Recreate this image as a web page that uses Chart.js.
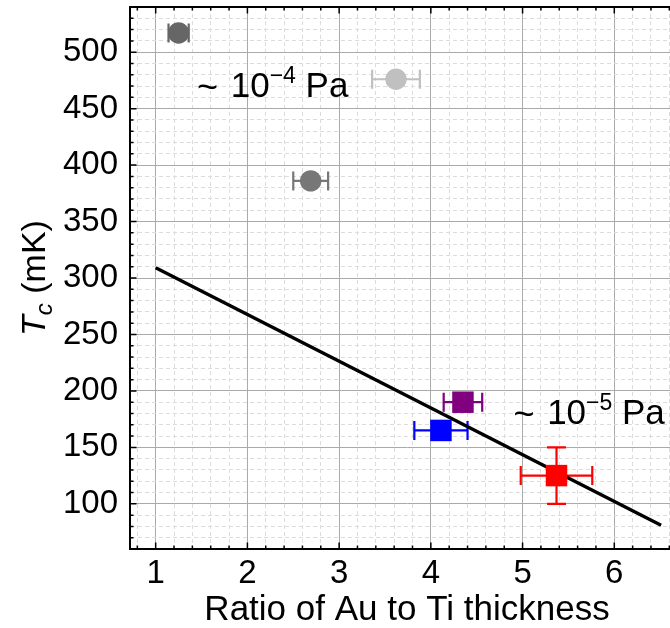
<!DOCTYPE html>
<html>
<head>
<meta charset="utf-8">
<script src="https://cdn.jsdelivr.net/npm/chart.js@4.4.1/dist/chart.umd.min.js"></script>
<style>
  html, body { margin: 0; padding: 0; background: #fff; overflow: hidden; }
  #wrap { width: 684px; height: 628px; position: relative; }
</style>
</head>
<body>
<div id="wrap"><canvas id="c"></canvas></div>
<script>
// Tc vs Au/Ti thickness ratio: two base pressures plus a linear fit.

const FONT = "'Liberation Sans', Arial, Helvetica, sans-serif";

// ~1e-4 Pa samples (circles)
const highPX = [1.25, 3.62, 2.69];
const highPTc = [517, 476, 386];
const highPXErr = [0.11, 0.26, 0.19];
const highPColors = ['#666666', '#c0c0c0', '#777777'];

// ~1e-5 Pa samples (squares)
const lowPX = [4.35, 4.11, 5.37];
const lowPTc = [190, 165, 125];
const lowPXErr = [0.21, 0.29, 0.39];
const lowPTcErr = [0, 0, 25];
const lowPColors = ['#800080', '#0000ff', '#ff0000'];

// linear fit
const fitX = [1.0, 6.51];
const fitTc = [309, 81];

// pressure labels
const noteX = [1.45, 4.90];
const noteTc = [460, 171];
const noteExp = ['\u22124', '\u22125'];

// axes
const xRange = [0.72, 6.76];
const yRange = [60, 540];
const xMajorTicks = [1, 2, 3, 4, 5, 6];
const yMajorTicks = [100, 150, 200, 250, 300, 350, 400, 450, 500];
const xMinorStep = 0.2;
const yMinorStep = 10;

function stepTicks(lo, hi, step) {
  const out = [];
  for (let k = Math.ceil(lo / step - 1e-9); k * step <= hi + 1e-9; k++) out.push(+(k * step).toFixed(6));
  return out;
}
const xTicks = stepTicks(xRange[0], xRange[1], xMinorStep);
const yTicks = stepTicks(yRange[0], yRange[1], yMinorStep);
const isMajor = (v, majors) => majors.some(m => Math.abs(m - v) < 1e-6);

const errorBars = {
  id: 'errorBars',
  beforeDatasetsDraw(chart) {
    const { ctx, scales: { x, y } } = chart;
    const cap = 9.5;
    chart.data.datasets.forEach(ds => {
      if (!ds.xErr) return;
      ds.data.forEach((p, i) => {
        const px = x.getPixelForValue(p.x), py = y.getPixelForValue(p.y);
        ctx.save();
        ctx.strokeStyle = ds.pointBackgroundColor[i];
        ctx.lineWidth = 2.2;
        ctx.beginPath();
        const dx = ds.xErr[i];
        if (dx) {
          const l = x.getPixelForValue(p.x - dx), r = x.getPixelForValue(p.x + dx);
          ctx.moveTo(l, py); ctx.lineTo(r, py);
          ctx.moveTo(l, py - cap); ctx.lineTo(l, py + cap);
          ctx.moveTo(r, py - cap); ctx.lineTo(r, py + cap);
        }
        const dy = ds.yErr ? ds.yErr[i] : 0;
        if (dy) {
          const t = y.getPixelForValue(p.y + dy), b = y.getPixelForValue(p.y - dy);
          ctx.moveTo(px, t); ctx.lineTo(px, b);
          ctx.moveTo(px - cap, t); ctx.lineTo(px + cap, t);
          ctx.moveTo(px - cap, b); ctx.lineTo(px + cap, b);
        }
        ctx.stroke();
        ctx.restore();
      });
    });
  }
};

const frame = {
  id: 'frame',
  afterDatasetsDraw(chart) {
    const { ctx, chartArea: a, scales: { x, y } } = chart;
    ctx.save();
    ctx.strokeStyle = '#000';
    ctx.lineWidth = 1.5;
    ctx.beginPath();
    x.ticks.forEach(t => {
      const px = x.getPixelForValue(t.value);
      const len = isMajor(t.value, xMajorTicks) ? 6.5 : 3.5;
      ctx.moveTo(px, a.bottom); ctx.lineTo(px, a.bottom - len);
      ctx.moveTo(px, a.top); ctx.lineTo(px, a.top + len);
    });
    y.ticks.forEach(t => {
      const py = y.getPixelForValue(t.value);
      const len = isMajor(t.value, yMajorTicks) ? 6.5 : 3.5;
      ctx.moveTo(a.left, py); ctx.lineTo(a.left + len, py);
      ctx.moveTo(a.right, py); ctx.lineTo(a.right - len, py);
    });
    ctx.stroke();
    ctx.lineWidth = 2;
    ctx.beginPath();
    ctx.moveTo(a.left, a.top); ctx.lineTo(a.right, a.top);
    ctx.stroke();
    ctx.restore();
  }
};

function drawRuns(ctx, x, y, runs) {
  runs.forEach(r => {
    ctx.font = r.font;
    ctx.fillText(r.text, x, y - (r.rise || 0));
    x += ctx.measureText(r.text).width + (r.gap || 0);
  });
}

const labels = {
  id: 'labels',
  afterDraw(chart) {
    const { ctx, chartArea: a, scales: { x, y } } = chart;
    ctx.save();
    ctx.fillStyle = '#000';
    ctx.textBaseline = 'alphabetic';
    ctx.textAlign = 'left';
    noteX.forEach((v, i) => {
      drawRuns(ctx, x.getPixelForValue(v), y.getPixelForValue(noteTc[i]), [
        { text: '~', font: `36px ${FONT}`, rise: -2, gap: 3 },
        { text: ' 10', font: `35px ${FONT}` },
        { text: noteExp[i], font: `23px ${FONT}`, rise: 14 },
        { text: ' Pa', font: `35px ${FONT}` },
      ]);
    });
    // y title: italic T with subscript c
    const runs = [
      { text: 'T', font: `italic 34px ${FONT}` },
      { text: 'c', font: `italic 24px ${FONT}`, rise: -7 },
      { text: ' (mK)', font: `34px ${FONT}` },
    ];
    let w = 0;
    runs.forEach(r => { ctx.font = r.font; w += ctx.measureText(r.text).width; });
    ctx.translate(45, (a.top + a.bottom) / 2);
    ctx.rotate(-Math.PI / 2);
    drawRuns(ctx, -w / 2, 0, runs);
    ctx.restore();
  }
};

new Chart(document.getElementById('c').getContext('2d'), {
  type: 'scatter',
  data: {
    datasets: [
      {
        data: lowPX.map((v, i) => ({ x: v, y: lowPTc[i] })),
        xErr: lowPXErr, yErr: lowPTcErr,
        pointStyle: 'rect', pointRadius: 15.2, pointBorderWidth: 0,
        pointBackgroundColor: lowPColors, order: 1,
      },
      {
        data: highPX.map((v, i) => ({ x: v, y: highPTc[i] })),
        xErr: highPXErr,
        pointStyle: 'circle', pointRadius: 10.7, pointBorderWidth: 0,
        pointBackgroundColor: highPColors, order: 2,
      },
      {
        data: fitX.map((v, i) => ({ x: v, y: fitTc[i] })),
        showLine: true, pointRadius: 0, borderColor: '#000', borderWidth: 3.4, order: 3,
      },
    ],
  },
  options: {
    responsive: true, maintainAspectRatio: false, animation: false, events: [],
    layout: { autoPadding: false, padding: { top: 7, left: 0, right: 0, bottom: 0 } },
    plugins: { legend: { display: false }, tooltip: { enabled: false } },
    scales: {
      x: {
        type: 'linear', min: xRange[0], max: xRange[1],
        afterBuildTicks: s => { s.ticks = xTicks.map(v => ({ value: v })); },
        afterFit: s => { s.height = 79; s.paddingLeft = 0; s.paddingRight = 0; },
        grid: {
          drawTicks: false, lineWidth: 1,
          color: c => isMajor(c.tick.value, xMajorTicks) ? '#aaaaaa' : '#dcdcdc',
        },
        border: { display: true, color: '#000', width: 2, dash: c => (c.tick && !isMajor(c.tick.value, xMajorTicks)) ? [4, 3] : [] },
        ticks: {
          autoSkip: false, maxRotation: 0, padding: 5, color: '#000',
          font: { family: FONT, size: 33 },
          callback: v => isMajor(v, xMajorTicks) ? String(Math.round(v)) : '',
        },
        title: {
          display: true, text: 'Ratio of Au to Ti thickness', color: '#000',
          font: { family: FONT, size: 35, lineHeight: 1 }, padding: { top: 0, bottom: 0 },
        },
      },
      y: {
        type: 'linear', min: yRange[0], max: yRange[1],
        afterBuildTicks: s => { s.ticks = yTicks.map(v => ({ value: v })); },
        afterFit: s => { s.width = 130; s.paddingTop = 0; s.paddingBottom = 0; },
        grid: {
          drawTicks: false, lineWidth: 1,
          color: c => isMajor(c.tick.value, yMajorTicks) ? '#aaaaaa' : '#dcdcdc',
        },
        border: { display: true, color: '#000', width: 2, dash: c => (c.tick && !isMajor(c.tick.value, yMajorTicks)) ? [4, 3] : [] },
        ticks: {
          autoSkip: false, padding: 12, color: '#000',
          font: { family: FONT, size: 33 },
          callback: v => isMajor(v, yMajorTicks) ? String(Math.round(v)) : '',
        },
      },
    },
  },
  plugins: [errorBars, frame, labels],
});
</script>
</body>
</html>
